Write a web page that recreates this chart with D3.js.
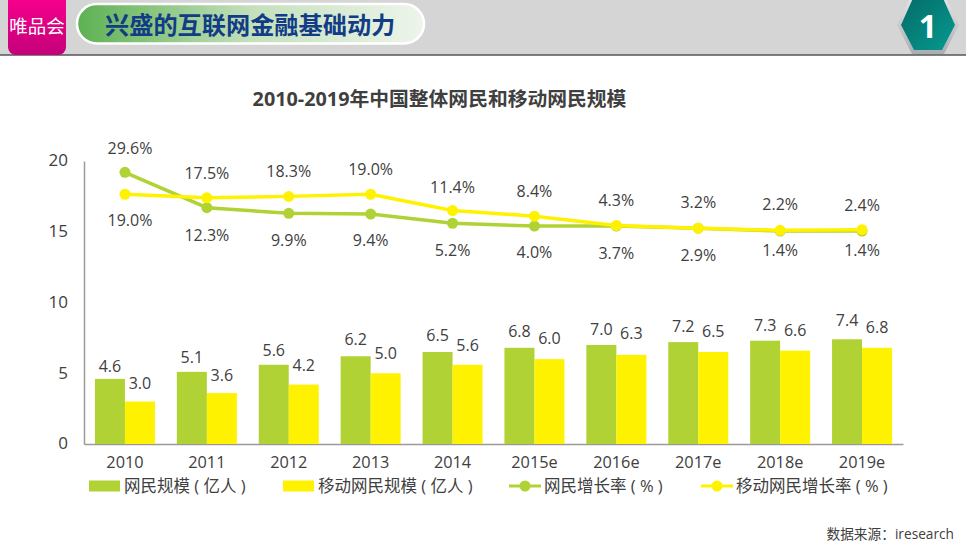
<!DOCTYPE html>
<html><head><meta charset="utf-8">
<script src="https://cdn.jsdelivr.net/npm/d3@7/dist/d3.min.js"></script>
<style>html,body{margin:0;padding:0;background:#fff;overflow:hidden}svg{display:block}text{font-family:"Open Sans","Noto Sans CJK SC",sans-serif}</style>
</head><body><svg id="c" width="966" height="543"></svg>
<script>
const categories=["2010","2011","2012","2013","2014","2015e","2016e","2017e","2018e","2019e"];
const netSize=[4.6,5.1,5.6,6.2,6.5,6.8,7.0,7.2,7.3,7.4];
const mobileSize=[3.0,3.6,4.2,5.0,5.6,6.0,6.3,6.5,6.6,6.8];
const netLine=[19.2,16.7,16.3,16.25,15.6,15.4,15.4,15.25,15.05,15.05];
const mobileLine=[17.65,17.4,17.5,17.65,16.5,16.1,15.45,15.25,15.1,15.15];
const upperLabels=["29.6%","17.5%","18.3%","19.0%","11.4%","8.4%","4.3%","3.2%","2.2%","2.4%"];
const lowerLabels=["19.0%","12.3%","9.9%","9.4%","5.2%","4.0%","3.7%","2.9%","1.4%","1.4%"];
const yTicks=[0,5,10,15,20];
const green="#b0d235",yellow="#fff200",ink="#404040";

const svg=d3.select("#c");
const defs=svg.append("defs");
const lg=(id,stops,x2,y2)=>{const g=defs.append("linearGradient").attr("id",id).attr("x1",0).attr("y1",0).attr("x2",x2).attr("y2",y2);
 stops.forEach(s=>g.append("stop").attr("offset",s[0]).attr("stop-color",s[1]));};
lg("pill",[[0,"#5db152"],[.5,"#c3e0bb"],[1,"#eef5ec"]],1,0);
lg("pink",[[0,"#f5008c"],[1,"#c4007a"]],0,1);
lg("hex",[[0,"#056a66"],[1,"#059a90"]],1,1);
lg("rim",[[0,"#e8e8e8"],[1,"#a9adb3"]],0,1);

// header
svg.append("rect").attr("x",-10).attr("y",-12).attr("width",986).attr("height",67).attr("rx",10).attr("fill","#d5d5d5").attr("stroke","#555").attr("stroke-width",1.5);
svg.append("path").attr("d","M8,0H66V47a8,8 0 0 1 -8,8H16a8,8 0 0 1 -8,-8Z").attr("fill","url(#pink)");
svg.append("text").attr("x",37).attr("y",33).attr("text-anchor","middle").attr("font-size",18.5).attr("font-family","Noto Sans CJK SC").attr("fill","#fff").text("唯品会");
svg.append("rect").attr("x",77).attr("y",4).attr("width",347).attr("height",39.5).attr("rx",19.7).attr("fill","url(#pill)").attr("stroke","#fff").attr("stroke-width",2.5);
svg.append("text").attr("x",105).attr("y",34).attr("font-size",24.2).attr("font-weight",700).attr("font-family","Noto Sans CJK SC").attr("fill","#123c85").text("兴盛的互联网金融基础动力");
svg.append("path").attr("d","M897,25L912,-6H944L959,25L944,54H912Z").attr("fill","url(#rim)");
svg.append("path").attr("d","M901,25L914,-4H942L955,25L942,50H914Z").attr("fill","url(#hex)");
svg.append("text").attr("x",928).attr("y",38).attr("text-anchor","middle").attr("font-size",32).attr("font-weight",700).attr("font-family","Liberation Sans").attr("fill","#fff").text("1");

// title
svg.append("text").attr("x",439.5).attr("y",106).attr("text-anchor","middle").attr("font-size",19.8).attr("font-weight",700).attr("fill","#3f3f3f").text("2010-2019年中国整体网民和移动网民规模");

// scales
const x=d3.scaleBand().domain(categories).range([84,903]);
const y=d3.scaleLinear().domain([0,20]).range([444,161]);
const barW=30;

const ax=svg.append("g").attr("transform","translate(84,0)").call(d3.axisLeft(y).tickValues(yTicks).tickSize(0).tickPadding(16));
ax.select(".domain").attr("stroke","#9a9a9a").attr("stroke-width",1.5);
ax.selectAll("text").attr("font-size",17).attr("dy","0.28em").attr("fill",ink);
const bx=svg.append("g").attr("transform","translate(0,444)").call(d3.axisBottom(x).tickSize(0).tickPadding(12));
bx.select(".domain").attr("stroke","#9a9a9a").attr("stroke-width",1.5);
bx.selectAll("text").attr("font-size",16.3).attr("fill",ink);

const cx=c=>x(c)+x.bandwidth()/2;
// bars
const bars=(vals,dx,col)=>svg.append("g").selectAll("rect").data(categories).join("rect")
 .attr("x",c=>cx(c)+dx).attr("width",barW)
 .attr("y",(c,i)=>y(vals[i])).attr("height",(c,i)=>y(0)-y(vals[i])).attr("fill",col);
bars(netSize,-barW,green);bars(mobileSize,0,yellow);

// bar labels
const barLabels=(vals,dx,gap)=>svg.append("g").selectAll("text").data(categories).join("text")
 .attr("x",c=>cx(c)+dx).attr("y",(c,i)=>y(vals[i])-gap[i]).attr("text-anchor","middle")
 .attr("font-size",16).attr("fill",ink).text((c,i)=>vals[i].toFixed(1));
barLabels(netSize,-15,[7,9,9,11,11,11,10,10,10,13]);
barLabels(mobileSize,15,[13,12,14,14,14,15,16,15,15,15]);

// lines
const line=vals=>d3.line().x((c)=>cx(c)).y((c,i)=>y(vals[i]))(categories);
const series=(vals,col)=>{
 svg.append("path").attr("d",line(vals)).attr("fill","none").attr("stroke",col).attr("stroke-width",3.5);
 svg.append("g").selectAll("circle").data(categories).join("circle")
  .attr("cx",cx).attr("cy",(c,i)=>y(vals[i])).attr("r",5.5).attr("fill",col);
};
series(netLine,green);series(mobileLine,yellow);

// line labels
const labelShift=[5,0,0,0,0,0,0,0,0,0];
const upperGap=[18,19,19,19,18,19,19,20,20,19];
const lowerGap=[32,33,33,32,33,32,33,33,25,25];
svg.append("g").selectAll("text").data(categories).join("text")
 .attr("x",(c,i)=>cx(c)+labelShift[i]).attr("y",(c,i)=>y(Math.max(netLine[i],mobileLine[i]))-upperGap[i]).attr("text-anchor","middle")
 .attr("font-size",16).attr("fill",ink).text((c,i)=>upperLabels[i]);
svg.append("g").selectAll("text").data(categories).join("text")
 .attr("x",(c,i)=>cx(c)+labelShift[i]).attr("y",(c,i)=>y(Math.min(netLine[i],mobileLine[i]))+lowerGap[i]).attr("text-anchor","middle")
 .attr("font-size",16).attr("fill",ink).text((c,i)=>lowerLabels[i]);

// legend
const legendItems=[
 {t:"网民规模 ( 亿人 )",c:green,k:"bar",x:89},
 {t:"移动网民规模 ( 亿人 )",c:yellow,k:"bar",x:283},
 {t:"网民增长率 ( % )",c:green,k:"line",x:509},
 {t:"移动网民增长率 ( % )",c:yellow,k:"line",x:701}];
const leg=svg.append("g").selectAll("g").data(legendItems).join("g").attr("transform",d=>`translate(${d.x},486)`);
leg.filter(d=>d.k=="bar").append("rect").attr("y",-5.5).attr("width",31).attr("height",11).attr("fill",d=>d.c);
leg.filter(d=>d.k=="line").append("line").attr("x2",32).attr("stroke",d=>d.c).attr("stroke-width",3);
leg.filter(d=>d.k=="line").append("circle").attr("cx",16).attr("r",5.5).attr("fill",d=>d.c);
leg.append("text").attr("x",35).attr("y",6).attr("font-size",16.5).attr("fill",ink).text(d=>d.t);

svg.append("text").attr("x",954).attr("y",539).attr("text-anchor","end").attr("font-size",13.7).attr("fill",ink).text("数据来源：iresearch");
</script></body></html>
